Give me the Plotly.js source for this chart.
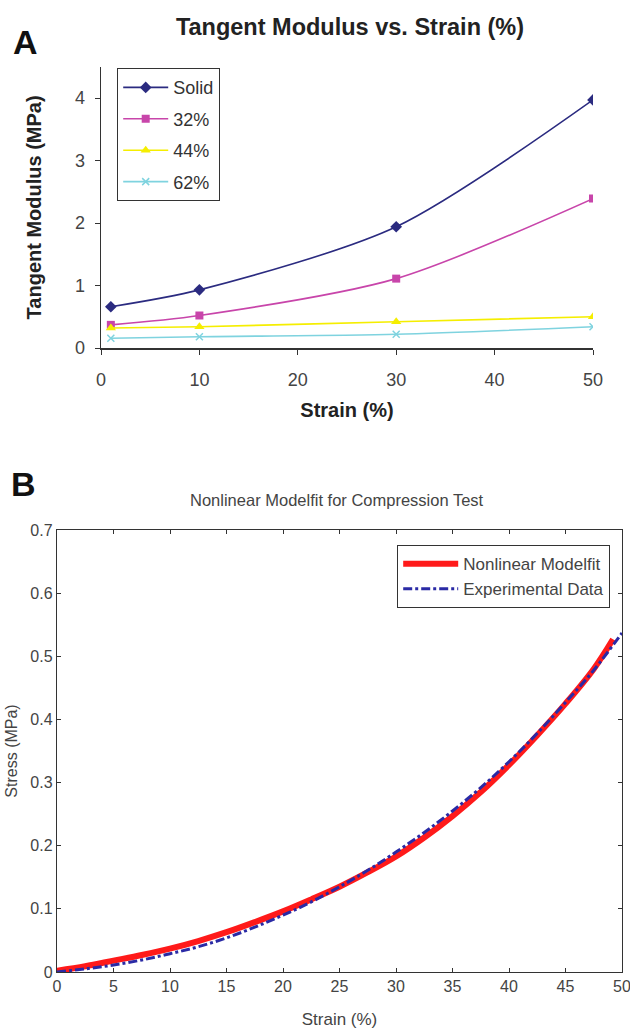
<!DOCTYPE html>
<html>
<head>
<meta charset="utf-8">
<script src="https://cdn.plot.ly/plotly-3.0.1.min.js"></script>
<style>html,body{margin:0;padding:0;background:#fff;}#chart{width:630px;height:1031px;}</style>
</head>
<body>
<div id="chart"></div>
<script>
// ---- Panel A data ----
const strainA = [1, 10, 30, 50];
const seriesNamesA = ["Solid", "32%", "44%", "62%"];
const solidA = [0.66, 0.93, 1.94, 3.97];
const p32A = [0.37, 0.52, 1.11, 2.39];
const p44A = [0.32, 0.34, 0.42, 0.50];
const p62A = [0.155, 0.18, 0.22, 0.34];
const xTicksA = [0, 10, 20, 30, 40, 50];
const yTicksA = [0, 1, 2, 3, 4];

// ---- Panel B data ----
const strainFitB = [0, 2.5, 5, 7.5, 10, 12.5, 15, 17.5, 20, 22.5, 25, 27.5, 30, 32.5, 35, 37.5, 40, 42.5, 45, 47.5, 49.2];
const stressFitB = [0.002, 0.009, 0.018, 0.027, 0.037, 0.049, 0.063, 0.079, 0.096, 0.115, 0.135, 0.158, 0.183, 0.213, 0.247, 0.285, 0.328, 0.375, 0.425, 0.480, 0.527];
const strainExpB = [0, 2.5, 5, 7.5, 10, 12.5, 15, 17.5, 20, 22.5, 25, 27.5, 30, 32.5, 35, 37.5, 40, 42.5, 45, 47.5, 50];
const stressExpB = [0.0, 0.005, 0.011, 0.019, 0.029, 0.040, 0.054, 0.071, 0.090, 0.111, 0.135, 0.161, 0.190, 0.221, 0.255, 0.292, 0.333, 0.378, 0.427, 0.478, 0.537];
const xTicksB = [0, 5, 10, 15, 20, 25, 30, 35, 40, 45, 50];
const yTicksB = [0, 0.1, 0.2, 0.3, 0.4, 0.5, 0.6, 0.7];

const W = 630, H = 1031;
const px = v => v / W;
const py = v => 1 - v / H;

const fA = "Liberation Sans, Arial, sans-serif";
const fB = "Liberation Sans, Arial, sans-serif";

const colorsA = ["#2b2b80", "#c845aa", "#f5ee00", "#7fd3df"];
const symbolsA = ["diamond", "square", "triangle-up", "x-thin-open"];
const valsA = [solidA, p32A, p44A, p62A];

const traces = [];
valsA.forEach((v, i) => {
  traces.push({
    x: strainA, y: v, name: seriesNamesA[i], type: "scatter", mode: "lines+markers",
    xaxis: "x", yaxis: "y", legend: "legend", legendgroup: "g" + i,
    line: {color: colorsA[i], width: 1.6, shape: "spline", smoothing: 0.8},
    marker: {symbol: symbolsA[i], color: colorsA[i], size: i === 3 ? 7 : (i === 1 ? 8 : 9),
             line: {color: colorsA[i], width: i === 3 ? 1.5 : 0}}
  });
});
traces.push({
  x: strainFitB, y: stressFitB, name: "Nonlinear Modelfit", type: "scatter", mode: "lines",
  xaxis: "x2", yaxis: "y2", legend: "legend2",
  line: {color: "#ff1a1a", width: 6, shape: "spline"}
});
traces.push({
  x: strainExpB, y: stressExpB, name: "Experimental Data", type: "scatter", mode: "lines",
  xaxis: "x2", yaxis: "y2", legend: "legend2",
  line: {color: "#2a2aa5", width: 3, dash: "dashdot", shape: "spline"}
});

const layout = {
  width: W, height: H,
  margin: {l: 0, r: 0, t: 0, b: 0},
  paper_bgcolor: "#fff", plot_bgcolor: "#fff",
  font: {family: fA, color: "#333", size: 16},
  title: {text: "<b>Tangent Modulus vs. Strain (%)</b>", x: px(350), xanchor: "center",
          y: py(27), yanchor: "middle", font: {family: fA, size: 23.5, color: "#222"}},
  xaxis: {domain: [px(101), px(593)], range: [0, 50], tickvals: xTicksA, ticks: "outside", ticklen: 5,
          tickcolor: "#333", showline: true, linecolor: "#333", linewidth: 1.5, showgrid: false, zeroline: false,
          tickfont: {family: fA, size: 18, color: "#444"}, anchor: "y", ticklabelstandoff: 10,
          title: {text: "<b>Strain (%)</b>", font: {family: fA, size: 20, color: "#222"}, standoff: 14}},
  yaxis: {domain: [py(348), py(66.75)], range: [0, 4.5], tickvals: yTicksA, ticks: "outside", ticklen: 5,
          tickcolor: "#333", showline: true, linecolor: "#333", linewidth: 1.5, showgrid: false, zeroline: false,
          tickfont: {family: fA, size: 18, color: "#444"}, anchor: "x", ticklabelstandoff: 6,
          title: {text: "<b>Tangent Modulus (MPa)</b>", font: {family: fA, size: 20, color: "#222"}, standoff: 28}},
  xaxis2: {domain: [px(57), px(622)], range: [0, 50], tickvals: xTicksB, ticks: "inside", ticklen: 4,
           tickcolor: "#333", showline: true, mirror: "ticks", linecolor: "#333", linewidth: 1.2,
           showgrid: false, zeroline: false, anchor: "y2", ticklabeloverflow: "allow",
           tickfont: {family: fB, size: 16, color: "#444"},
           title: {text: "Strain (%)", font: {family: fB, size: 17, color: "#444"}, standoff: 18}},
  yaxis2: {domain: [py(972), py(530)], range: [0, 0.7], tickvals: yTicksB, ticks: "inside", ticklen: 4,
           tickcolor: "#333", showline: true, mirror: "ticks", linecolor: "#333", linewidth: 1.2,
           showgrid: false, zeroline: false, anchor: "x2",
           tickfont: {family: fB, size: 16, color: "#444"},
           title: {text: "Stress (MPa)", font: {family: fB, size: 16, color: "#444"}, standoff: 8}},
  legend: {x: px(117), y: py(68), xanchor: "left", yanchor: "top", bgcolor: "#fff",
           bordercolor: "#333", borderwidth: 1.2, font: {family: fA, size: 18, color: "#333"},
           tracegroupgap: 5, traceorder: "grouped", itemwidth: 45},
  legend2: {x: px(397), y: py(545), xanchor: "left", yanchor: "top", bgcolor: "#fff",
            bordercolor: "#333", borderwidth: 1.2, font: {family: fB, size: 17, color: "#444"},
            traceorder: "normal", itemwidth: 55},
  annotations: [
    {text: "<b>A</b>", x: px(25), y: py(42), xref: "paper", yref: "paper", showarrow: false,
     font: {family: fA, size: 34, color: "#111"}, xanchor: "center", yanchor: "middle"},
    {text: "<b>B</b>", x: px(23), y: py(484), xref: "paper", yref: "paper", showarrow: false,
     font: {family: fA, size: 34, color: "#111"}, xanchor: "center", yanchor: "middle"},
    {text: "Nonlinear Modelfit for Compression Test", x: px(337), y: py(500), xref: "paper", yref: "paper",
     showarrow: false, font: {family: fB, size: 16.5, color: "#444"}, xanchor: "center", yanchor: "middle"}
  ],
  showlegend: true
};

Plotly.newPlot("chart", traces, layout, {staticPlot: true, displayModeBar: false});
</script>
</body>
</html>
